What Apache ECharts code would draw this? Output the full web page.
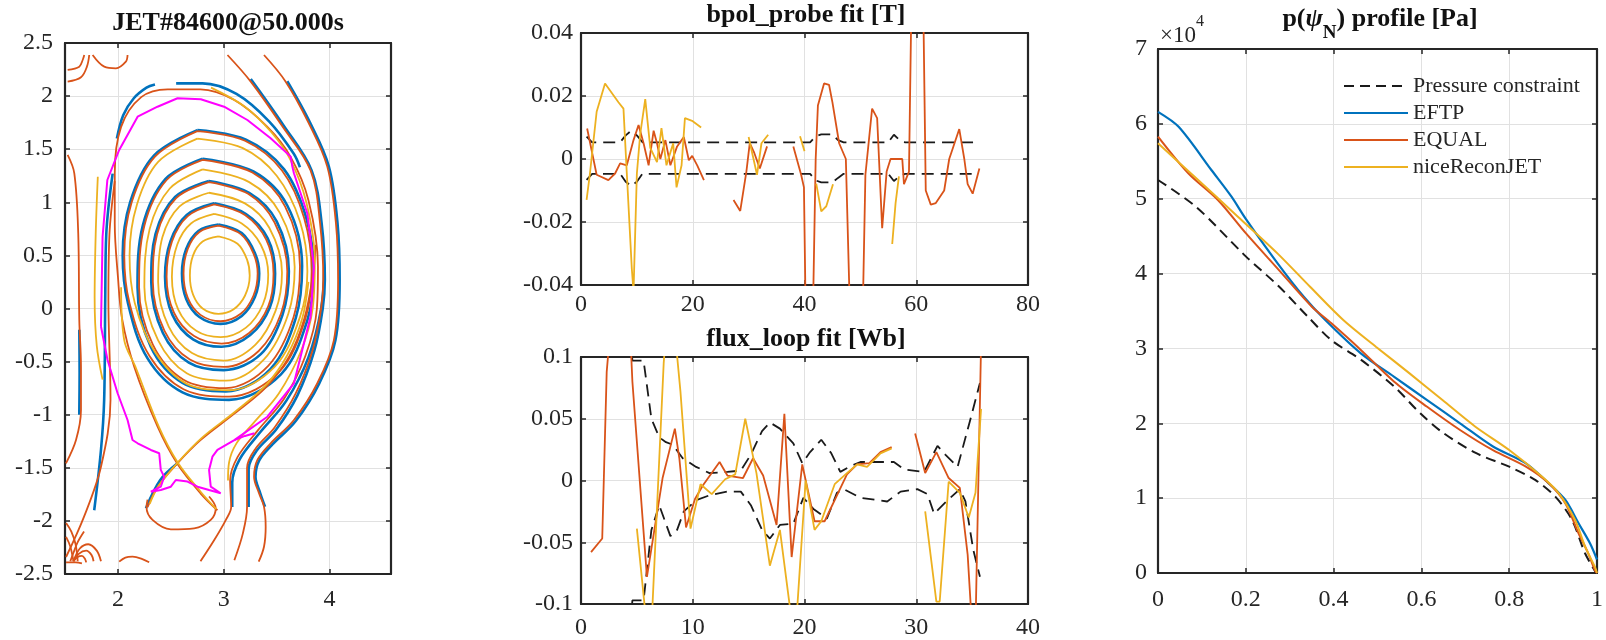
<!DOCTYPE html>
<html><head><meta charset="utf-8">
<script src="https://cdn.jsdelivr.net/npm/echarts@6/dist/echarts.min.js"></script>
<style>html,body{margin:0;padding:0;background:#fff;font-family:'Liberation Serif',serif}#c{width:1606px;height:640px}</style>
</head><body><div id="c"></div>
<script>
// ================= DATA =================
// ---- Panel 1: flux contours [R (m), Z (m)] ----
const ringEqual1 = [[2.95,0.78],[3.16,0.70],[3.28,0.52],[3.32,0.33],[3.28,0.12],[3.16,-0.05],[2.97,-0.12],[2.78,-0.06],[2.66,0.10],[2.62,0.33],[2.66,0.56],[2.77,0.72],[2.95,0.78]];
const ringEftp1  = [[2.95,0.79],[3.17,0.71],[3.295,0.52],[3.335,0.33],[3.295,0.11],[3.17,-0.07],[2.97,-0.145],[2.77,-0.08],[2.645,0.09],[2.605,0.33],[2.645,0.56],[2.76,0.73],[2.95,0.79]];
const ringNice1  = [[2.95,0.68],[3.13,0.61],[3.22,0.46],[3.245,0.31],[3.20,0.12],[3.09,-0.01],[2.95,-0.05],[2.80,0.00],[2.71,0.13],[2.68,0.31],[2.71,0.50],[2.80,0.63],[2.95,0.68]];
const ringEqual2 = [[2.91,0.98],[3.20,0.88],[3.40,0.65],[3.47,0.33],[3.42,0.02],[3.24,-0.23],[2.98,-0.33],[2.72,-0.26],[2.53,-0.04],[2.46,0.30],[2.51,0.63],[2.66,0.87],[2.91,0.98]];
const ringEftp2  = [[2.91,0.99],[3.21,0.89],[3.415,0.66],[3.485,0.33],[3.435,0.01],[3.25,-0.25],[2.98,-0.36],[2.71,-0.29],[2.515,-0.06],[2.445,0.30],[2.495,0.63],[2.65,0.88],[2.91,0.99]];
const ringNice2  = [[2.91,0.89],[3.17,0.80],[3.35,0.60],[3.42,0.32],[3.37,0.04],[3.21,-0.18],[2.97,-0.27],[2.74,-0.21],[2.57,-0.01],[2.51,0.30],[2.56,0.60],[2.69,0.80],[2.91,0.89]];
const ringEqual3 = [[2.86,1.19],[3.23,1.08],[3.48,0.81],[3.60,0.35],[3.54,-0.05],[3.33,-0.40],[3.00,-0.55],[2.68,-0.48],[2.44,-0.21],[2.33,0.25],[2.37,0.70],[2.55,1.04],[2.86,1.19]];
const ringEftp3  = [[2.86,1.20],[3.24,1.09],[3.50,0.82],[3.615,0.35],[3.555,-0.06],[3.35,-0.43],[3.00,-0.58],[2.67,-0.51],[2.425,-0.23],[2.315,0.25],[2.355,0.70],[2.54,1.05],[2.86,1.20]];
const ringNice3  = [[2.86,1.09],[3.20,0.99],[3.43,0.76],[3.55,0.34],[3.49,-0.02],[3.30,-0.34],[3.00,-0.49],[2.70,-0.42],[2.48,-0.17],[2.38,0.25],[2.42,0.67],[2.58,0.96],[2.86,1.09]];
const ringEqual4 = [[2.80,1.40],[3.27,1.28],[3.58,0.96],[3.72,0.40],[3.66,-0.08],[3.42,-0.54],[3.02,-0.75],[2.62,-0.67],[2.33,-0.34],[2.20,0.20],[2.25,0.78],[2.46,1.21],[2.80,1.40]];
const ringEftp4  = [[2.80,1.41],[3.28,1.29],[3.60,0.97],[3.74,0.40],[3.68,-0.09],[3.44,-0.57],[3.02,-0.78],[2.61,-0.70],[2.31,-0.36],[2.185,0.20],[2.235,0.78],[2.45,1.22],[2.80,1.41]];
const ringNice4  = [[2.80,1.31],[3.24,1.19],[3.53,0.90],[3.67,0.39],[3.61,-0.05],[3.38,-0.48],[3.02,-0.68],[2.65,-0.61],[2.38,-0.30],[2.25,0.20],[2.30,0.75],[2.49,1.13],[2.80,1.31]];
const ringEqual5 = [[2.75,1.67],[3.20,1.58],[3.55,1.30],[3.76,0.85],[3.83,0.35],[3.77,-0.10],[3.52,-0.60],[3.05,-0.83],[2.62,-0.76],[2.30,-0.45],[2.11,0.05],[2.06,0.50],[2.13,1.00],[2.35,1.43],[2.75,1.67]];
const ringEftp5  = [[2.75,1.68],[3.21,1.59],[3.57,1.31],[3.78,0.85],[3.85,0.35],[3.79,-0.11],[3.54,-0.62],[3.05,-0.86],[2.61,-0.79],[2.28,-0.47],[2.095,0.05],[2.045,0.50],[2.115,1.00],[2.34,1.44],[2.75,1.68]];
const ringNice5  = [[2.75,1.60],[3.18,1.51],[3.50,1.25],[3.72,0.82],[3.79,0.35],[3.72,-0.08],[3.48,-0.55],[3.05,-0.77],[2.65,-0.71],[2.35,-0.41],[2.16,0.05],[2.11,0.50],[2.18,0.98],[2.38,1.38],[2.75,1.60]];
const sepEqualMain = [[2.94,-1.90],[2.78,-1.74],[2.56,-1.46],[2.375,-1.113],[2.154,-0.548],[2.04,-0.10],[2.00,0.30],[1.97,0.80],[1.97,1.27],[2.03,1.71],[2.22,1.99],[2.47,2.064],[2.78,2.064],[3.10,1.963],[3.41,1.712],[3.63,1.43],[3.80,1.02],[3.89,0.39],[3.88,0.00],[3.77,-0.45],[3.57,-0.85],[3.32,-1.15],[3.13,-1.40],[3.06,-1.62],[3.07,-1.87],[3.02,-1.99],[2.91,-2.18],[2.78,-2.38]];
const sepEqualLeg = [[2.28,-1.87],[2.375,-1.68],[2.56,-1.46],[2.78,-1.24],[3.10,-0.99],[3.40,-0.74],[3.62,-0.45],[3.76,-0.10],[3.84,0.30],[3.87,0.60]];
const sepNiceA = [[2.03,0.20],[2.06,-0.30],[2.17,-0.56],[2.385,-1.11],[2.565,-1.45],[2.785,-1.73],[2.93,-1.89]];
const sepNiceB = [[2.30,-1.84],[2.385,-1.67],[2.565,-1.45],[2.79,-1.22],[3.11,-0.97],[3.40,-0.72],[3.60,-0.44],[3.74,-0.10],[3.80,0.25]];
const sepEftpLeg = [[2.265,-1.88],[2.40,-1.615],[2.56,-1.46]];
const sepEftpTopA = [[1.99,1.60],[2.05,1.82],[2.15,1.98],[2.27,2.08],[2.35,2.11]];
const sepEftpTopB = [[2.55,2.12],[2.80,2.12],[3.12,2.02],[3.43,1.76],[3.66,1.46],[3.72,1.33]];
const sepEftpRight = [[3.95,0.39],[3.92,0.00],[3.80,-0.46],[3.59,-0.87],[3.34,-1.17],[3.15,-1.42],[3.08,-1.64],[3.08,-1.87]];
const outerLeftEqual = [[1.97,1.20],[1.92,0.70],[1.91,0.08],[1.93,-0.86],[1.84,-1.49],[1.68,-1.96],[1.51,-2.34]];
const outerLeftEftp = [[1.95,1.27],[1.89,0.70],[1.88,0.08],[1.87,-0.86],[1.84,-1.33],[1.776,-1.90]];
const openDEqual = [[3.035,2.387],[3.255,2.136],[3.55,1.72],[3.82,1.30],[3.91,0.80],[3.94,0.27],[3.92,0.00],[3.84,-0.39],[3.68,-0.80],[3.48,-1.12],[3.30,-1.32],[3.22,-1.50],[3.22,-1.87],[3.18,-2.12],[3.10,-2.37]];
const openDEftp = [[3.255,2.16],[3.56,1.73],[3.83,1.30],[3.925,0.80],[3.955,0.27],[3.935,0.00],[3.855,-0.40],[3.695,-0.82],[3.495,-1.14],[3.31,-1.34],[3.235,-1.51],[3.235,-1.87]];
const openEEqual = [[3.38,2.387],[3.585,2.136],[3.80,1.75],[3.978,1.336],[4.06,0.80],[4.08,0.27],[4.04,-0.30],[3.884,-0.704],[3.663,-1.05],[3.443,-1.269],[3.318,-1.426],[3.286,-1.584],[3.333,-1.74],[3.38,-1.866],[3.396,-2.054],[3.38,-2.243],[3.33,-2.384]];
const openEEftp = [[3.60,2.14],[3.815,1.75],[3.993,1.336],[4.075,0.80],[4.095,0.27],[4.055,-0.30],[3.90,-0.71],[3.68,-1.06],[3.46,-1.28],[3.335,-1.43],[3.30,-1.585],[3.345,-1.74],[3.39,-1.866]];
const openFEqual = [[1.525,1.446],[1.588,1.273],[1.625,0.708],[1.635,-0.108],[1.651,-0.548],[1.651,-0.956],[1.604,-1.238],[1.509,-1.458]];
const openFEftp = [[1.635,-0.20],[1.638,-0.60],[1.635,-1.00]];
const openLeftNice = [[1.81,1.24],[1.79,0.70],[1.78,0.10],[1.80,-0.35],[1.855,-0.67]];
const openRightNice = [[2.88,2.08],[3.20,1.90],[3.45,1.66],[3.63,1.40],[3.78,1.00],[3.86,0.45],[3.84,0.00],[3.73,-0.40],[3.52,-0.80],[3.28,-1.08],[3.12,-1.27],[3.05,-1.45],[3.04,-1.62]];
const privateLoop = [[2.28,-1.80],[2.27,-1.87],[2.327,-1.991],[2.50,-2.079],[2.72,-2.07],[2.877,-1.991],[2.924,-1.881],[2.861,-1.77]];
const bottomDome = [[2.012,-2.384],[2.07,-2.345],[2.138,-2.337],[2.22,-2.355],[2.295,-2.39]];
const topArcA = [[1.525,2.246],[1.635,2.277],[1.667,2.340],[1.682,2.387]];
const topArcB = [[1.525,2.136],[1.651,2.177],[1.707,2.277],[1.729,2.387]];
const topArcC = [[1.761,2.387],[1.871,2.277],[1.981,2.262],[2.075,2.324],[2.091,2.387]];
const cornerArc1 = [[1.51,-2.02],[1.56,-2.10],[1.60,-2.22],[1.62,-2.38]];
const cornerArc2 = [[1.51,-2.15],[1.55,-2.24],[1.58,-2.38]];
const cornerArc3 = [[1.58,-2.38],[1.64,-2.26],[1.72,-2.22],[1.80,-2.28],[1.84,-2.38]];
const cornerArc4 = [[1.58,-2.38],[1.63,-2.31],[1.70,-2.28],[1.75,-2.32],[1.77,-2.38]];
const cornerArc5 = [[1.58,-2.38],[1.62,-2.34],[1.66,-2.33],[1.69,-2.36],[1.70,-2.39]];
const cornerArc6 = [[1.51,-2.39],[1.60,-2.39],[1.66,-2.40]];
const cornerArc7 = [[1.55,-2.38],[1.58,-2.30],[1.62,-2.20],[1.68,-2.10]];
const boundaryMagenta = [[1.84,-0.17],[1.855,0.676],[1.90,1.21],[2.012,1.493],[2.186,1.806],[2.374,1.90],[2.563,1.98],[2.783,1.97],[3.003,1.90],[3.223,1.775],[3.443,1.603],[3.632,1.43],[3.648,1.336],[3.663,1.273],[3.789,0.897],[3.852,0.394],[3.82,-0.077],[3.663,-0.704],[3.412,-1.019],[3.10,-1.24],[2.94,-1.332],[2.893,-1.395],[2.861,-1.52],[2.877,-1.678],[2.971,-1.74],[2.861,-1.709],[2.752,-1.678],[2.657,-1.63],[2.547,-1.615],[2.50,-1.678],[2.405,-1.709],[2.311,-1.725],[2.405,-1.678],[2.437,-1.584],[2.405,-1.52],[2.39,-1.363],[2.311,-1.332],[2.186,-1.269],[2.138,-1.238],[2.091,-1.05],[1.997,-0.798],[1.902,-0.485],[1.84,-0.17]];
const magentaStub = [[3.10,-1.24],[3.20,-1.20],[3.29,-1.175]];

// ---- Panel 2: bpol_probe fit [T] vs probe index ----
const bpolEqualA = [[1.1,0.0097],[2.8,-0.005],[4.9,-0.0067],[6.1,-0.0046],[7.0,-0.0014],[8.2,-0.002],[9.4,0.006],[10.3,0.0108],[11.2,0.005],[12.1,-0.002],[13.0,0.009],[13.6,0.005],[14.2,0.0],[15.1,0.006],[16.0,-0.002],[17.2,0.004],[18.4,0.007],[19.3,-0.0004],[19.9,0.001],[20.8,-0.002],[22.0,-0.0067]];
const bpolEqualB = [[27.3,-0.013],[28.5,-0.0165],[29.6,-0.004],[30.2,0.005],[31.0,0.002],[32.0,-0.003],[33.3,0.004]];
const bpolEqualC = [[38.0,0.004],[39.4,-0.005],[39.9,-0.009],[40.3,-0.06],[41.4,-0.06],[42.0,0.0],[42.4,0.017],[43.5,0.024],[44.4,0.0235],[45.0,0.018],[46.2,0.005],[47.4,0.0],[48.3,-0.06],[50.3,-0.06],[50.9,-0.005],[52.1,0.016],[53.0,0.013],[53.9,-0.022],[54.7,-0.004],[55.4,0.0],[56.3,0.0],[57.5,0.0],[57.8,-0.008],[58.7,-0.004],[59.3,0.07],[61.1,0.07],[61.7,-0.010],[62.6,-0.0145],[63.5,-0.014],[65.0,-0.010],[65.9,0.0],[67.7,0.0095],[68.6,0.0],[69.2,-0.008],[70.1,-0.011],[71.3,-0.003]];
const bpolNiceA = [[1.0,-0.013],[1.6,-0.0046],[2.8,0.015],[4.3,0.024],[6.7,0.018],[7.6,0.016],[8.2,-0.0046],[9.1,-0.035],[9.4,-0.042],[10.0,-0.0046],[10.6,0.008],[11.5,0.019],[12.4,0.0035],[13.6,-0.001],[14.4,0.0098],[15.3,-0.002],[16.5,0.005],[17.1,-0.009],[18.0,-0.002],[18.6,0.013],[20.0,0.012],[21.5,0.010]];
const bpolNiceB = [[30.0,0.007],[31.5,-0.005],[32.3,0.005],[33.5,0.0077]];
const bpolNiceC = [[39.2,0.0072],[40.0,0.0025]];
const bpolNiceD = [[42.1,-0.0078],[43.0,-0.0166],[43.9,-0.015],[45.1,-0.008]];
const bpolNiceE = [[55.7,-0.027],[56.3,-0.014],[56.9,-0.0055]];
const bpolUpper = [[1,0.0071],[2,0.0053],[7,0.0053],[8,0.0075],[9,0.009],[10,0.0075],[11,0.0053],[41,0.0053],[42,0.0072],[43,0.0078],[45,0.0078],[46,0.006],[47,0.0053],[55,0.0053],[56,0.0077],[57,0.006],[58,0.0053],[71,0.0053]];
const bpolLower = [[1,-0.0066],[2,-0.0047],[7,-0.0047],[8,-0.0072],[9,-0.0086],[10,-0.0072],[11,-0.0047],[41,-0.0047],[42,-0.0068],[43,-0.0074],[45,-0.0074],[46,-0.006],[47,-0.0047],[55,-0.0047],[56,-0.0070],[57,-0.0055],[58,-0.0047],[71,-0.0047]];

// ---- Panel 3: flux_loop fit [Wb] vs loop index ----
const fluxEqualA = [[0.9,-0.058],[1.9,-0.047],[2.3,0.088],[2.6,0.12],[4.4,0.12],[4.6,0.08],[5.9,-0.078],[7.3,0.002],[8.4,0.042],[8.8,0.018],[9.4,-0.038],[10.2,-0.015],[10.9,-0.004],[12.4,0.015],[13.1,0.004],[14.5,0.002],[15.4,0.018],[16.3,0.004],[17.5,-0.036],[18.2,0.054],[18.85,-0.062],[19.8,0.013],[20.9,-0.033],[21.8,-0.033],[23.8,0.005],[24.7,0.013],[25.8,0.014],[26.8,0.023],[27.8,0.027]];
const fluxEqualB = [[29.9,0.038],[30.8,0.006],[31.8,0.023],[32.9,0.002],[33.9,-0.006],[34.6,-0.06],[35.0,-0.12],[35.3,-0.12],[35.8,0.11]];
const fluxNiceA = [[5.0,-0.039],[5.9,-0.12],[6.3,-0.12],[7.4,0.095],[7.6,0.12],[8.4,0.12],[8.9,0.072],[9.8,-0.039],[10.7,-0.003],[11.7,-0.011],[12.9,0.001],[13.8,0.005],[14.7,0.05],[15.7,0.006],[16.9,-0.069],[17.8,-0.04],[18.8,-0.11],[19.3,-0.11],[20.1,0.0],[20.9,-0.04],[21.5,-0.033],[22.7,-0.003],[23.8,0.006],[24.7,0.013],[25.6,0.011],[26.8,0.022],[27.8,0.026]];
const fluxNiceB = [[30.8,-0.025],[31.8,-0.098],[32.1,-0.098],[32.9,-0.001],[33.9,-0.01],[34.7,-0.03],[35.3,-0.01],[35.8,0.058]];
const fluxUpper = [[4.3,0.13],[4.6,0.097],[5.6,0.097],[6.3,0.05],[7.0,0.035],[7.6,0.031],[8.2,0.029],[9.1,0.018],[10.3,0.011],[11.5,0.006],[13.1,0.007],[14.3,0.008],[15.2,0.021],[16.2,0.040],[16.9,0.047],[17.8,0.042],[19.0,0.030],[19.8,0.014],[20.5,0.023],[21.5,0.033],[22.4,0.022],[23.2,0.007],[24.2,0.012],[25.0,0.015],[28.0,0.015],[28.9,0.009],[30.7,0.007],[31.9,0.028],[32.6,0.021],[33.7,0.011],[34.8,0.048],[35.7,0.079]];
const fluxLower = [[4.3,-0.13],[4.6,-0.097],[5.6,-0.097],[6.3,-0.04],[7.0,-0.02],[8.0,-0.045],[8.6,-0.04],[9.2,-0.025],[10.3,-0.016],[11.5,-0.012],[13.1,-0.009],[14.3,-0.009],[15.2,-0.02],[16.2,-0.04],[16.9,-0.047],[17.8,-0.036],[19.0,-0.035],[19.9,-0.014],[20.8,-0.023],[22.0,-0.031],[22.9,-0.010],[23.5,-0.007],[25.0,-0.014],[27.4,-0.017],[28.6,-0.009],[30.1,-0.007],[31.0,-0.011],[31.6,-0.027],[32.8,-0.016],[33.9,-0.007],[34.4,-0.017],[35.1,-0.056],[35.7,-0.078]];

// ---- Panel 4: pressure profile p(psiN), in units of 1e4 Pa ----
const pConstraint = [[0,5.25],[0.087,4.89],[0.2,4.23],[0.275,3.83],[0.342,3.42],[0.395,3.11],[0.462,2.85],[0.538,2.49],[0.598,2.13],[0.65,1.87],[0.725,1.60],[0.8,1.42],[0.86,1.24],[0.905,1.02],[0.943,0.71],[0.973,0.26],[0.998,0]];
const pEFTP = [[0,6.16],[0.047,5.96],[0.122,5.38],[0.167,5.03],[0.2,4.73],[0.272,4.14],[0.332,3.69],[0.381,3.38],[0.462,2.935],[0.538,2.62],[0.613,2.31],[0.688,2.00],[0.763,1.69],[0.838,1.465],[0.89,1.198],[0.928,0.975],[0.958,0.664],[0.984,0.397],[1.0,0.18]];
const pEQUAL = [[0,5.83],[0.069,5.34],[0.137,4.98],[0.2,4.54],[0.275,4.05],[0.35,3.56],[0.395,3.335],[0.462,2.98],[0.538,2.555],[0.613,2.22],[0.688,1.91],[0.763,1.64],[0.838,1.42],[0.89,1.198],[0.928,0.93],[0.958,0.53],[0.98,0.263],[0.995,0.04],[1.0,0]];
const pNice = [[0,5.74],[0.084,5.29],[0.182,4.76],[0.272,4.27],[0.347,3.82],[0.422,3.38],[0.497,3.02],[0.573,2.667],[0.648,2.31],[0.723,1.954],[0.8,1.643],[0.875,1.286],[0.913,1.065],[0.95,0.708],[0.973,0.351],[0.995,0.084],[1.0,0]];
const legendNames = ['Pressure constraint','EFTP','EQUAL','niceReconJET'];

const xTicksEq = [2, 3, 4];
const titles = ['JET#84600@50.000s', 'bpol_probe fit [T]', 'flux_loop fit [Wb]'];

// ================= STYLE / BUILD =================
const FONT = 'Liberation Serif';
const AXC = '#262626', GRIDC = '#e1e1e1';
const BLUE = '#0072BD', ORANGE = '#D95319', YELLOW = '#EDB120', MAG = '#FF00FF', BLACK = '#1a1a1a';

function mkX(gi, min, max, interval, margin, custom) {
  const tick = {show:true, inside:true, length:5, lineStyle:{color:AXC, width:1.5}};
  const base = {type:'value', gridIndex:gi, min:min, max:max,
    axisLine:{show:true, onZero:false, lineStyle:{color:AXC, width:2.2}}};
  if (interval != null) base.interval = interval;
  const lbl = {fontSize:24, color:AXC, margin:margin};
  if (custom) lbl.customValues = custom;
  const bottom = Object.assign({}, base, {position:'bottom',
    axisTick: Object.assign({}, tick, custom ? {customValues: custom} : {}),
    axisLabel: lbl,
    splitLine:{show:true, lineStyle:{color:GRIDC, width:1}}});
  const top = Object.assign({}, base, {position:'top',
    axisTick: Object.assign({}, tick, custom ? {customValues: custom} : {}),
    axisLabel:{show:false}, splitLine:{show:false}});
  return [bottom, top];
}
function mkY(gi, min, max, interval, margin) {
  const tick = {show:true, inside:true, length:5, lineStyle:{color:AXC, width:1.5}};
  const base = {type:'value', gridIndex:gi, min:min, max:max, interval:interval,
    axisLine:{show:true, onZero:false, lineStyle:{color:AXC, width:2.2}}, axisTick:tick};
  const left = Object.assign({}, base, {position:'left',
    axisLabel:{fontSize:24, color:AXC, margin:margin},
    splitLine:{show:true, lineStyle:{color:GRIDC, width:1}}});
  const right = Object.assign({}, base, {position:'right', axisLabel:{show:false}, splitLine:{show:false}});
  return [left, right];
}

function L(g, data, color, width, o) {
  o = o || {};
  const s = {type:'line', data:data, xAxisIndex:g*2, yAxisIndex:g*2, symbol:'none', showSymbol:false,
    silent:true, animation:false, clip:true, smooth:o.smooth || false, z:o.z || 3,
    lineStyle:{color:color, width:width, type:o.dash ? (o.dashArr || [11,7]) : 'solid'}, itemStyle:{color:color}};
  if (o.name) s.name = o.name;
  return s;
}

const series = [];
const SM = 0.35;
// panel 1
[ringEftp1, ringEftp2, ringEftp3, ringEftp4, ringEftp5].forEach(d => series.push(L(0, d, BLUE, 2.6, {smooth:SM, z:2})));
[ringEqual1, ringEqual2, ringEqual3, ringEqual4, ringEqual5].forEach(d => series.push(L(0, d, ORANGE, 1.8, {smooth:SM, z:3})));
[ringNice1, ringNice2, ringNice3, ringNice4, ringNice5].forEach(d => series.push(L(0, d, YELLOW, 1.8, {smooth:SM, z:4})));
[sepEftpLeg, sepEftpTopA, sepEftpTopB, sepEftpRight, outerLeftEftp, openDEftp, openEEftp, openFEftp].forEach(d => series.push(L(0, d, BLUE, 2.6, {smooth:SM, z:2})));
[sepEqualMain, sepEqualLeg, outerLeftEqual, openDEqual, openEEqual, openFEqual, privateLoop, bottomDome, topArcA, topArcB, topArcC,
 cornerArc1, cornerArc2, cornerArc3, cornerArc4, cornerArc5, cornerArc6, cornerArc7].forEach(d => series.push(L(0, d, ORANGE, 1.8, {smooth:SM, z:3})));
[sepNiceA, sepNiceB, openLeftNice, openRightNice].forEach(d => series.push(L(0, d, YELLOW, 1.8, {smooth:SM, z:4})));
series.push(L(0, boundaryMagenta, MAG, 2, {z:5}));
series.push(L(0, magentaStub, MAG, 2, {z:5}));
// panel 2
series.push(L(1, bpolUpper, BLACK, 1.8, {dash:true, z:2, dashArr:[12,7]}));
series.push(L(1, bpolLower, BLACK, 1.8, {dash:true, z:2, dashArr:[12,7]}));
[bpolEqualA, bpolEqualB, bpolEqualC].forEach(d => series.push(L(1, d, ORANGE, 1.8, {z:3})));
[bpolNiceA, bpolNiceB, bpolNiceC, bpolNiceD, bpolNiceE].forEach(d => series.push(L(1, d, YELLOW, 1.8, {z:4})));
// panel 3
series.push(L(2, fluxUpper, BLACK, 1.8, {dash:true, z:2, dashArr:[12,7]}));
series.push(L(2, fluxLower, BLACK, 1.8, {dash:true, z:2, dashArr:[12,7]}));
[fluxEqualA, fluxEqualB].forEach(d => series.push(L(2, d, ORANGE, 1.8, {z:3})));
[fluxNiceA, fluxNiceB].forEach(d => series.push(L(2, d, YELLOW, 1.8, {z:4})));
// panel 4
series.push(L(3, pConstraint, BLACK, 2, {dash:true, z:2, smooth:0.3, dashArr:[10,6], name:legendNames[0]}));
series.push(L(3, pEFTP, BLUE, 2.2, {z:3, smooth:0.3, name:legendNames[1]}));
series.push(L(3, pEQUAL, ORANGE, 2, {z:4, smooth:0.3, name:legendNames[2]}));
series.push(L(3, pNice, YELLOW, 2, {z:5, smooth:0.3, name:legendNames[3]}));

const xAxis = [].concat(
  mkX(0, 1.5, 4.58, null, 14, xTicksEq),
  mkX(1, 0, 80, 20, 8),
  mkX(2, 0, 40, 10, 12),
  mkX(3, 0, 1, 0.2, 15));
const yAxis = [].concat(
  mkY(0, -2.5, 2.5, 0.5, 12),
  mkY(1, -0.04, 0.04, 0.02, 8),
  mkY(2, -0.1, 0.1, 0.05, 8),
  mkY(3, 0, 7, 1, 11));

const option = {
  animation:false,
  backgroundColor:'#ffffff',
  textStyle:{fontFamily:FONT},
  grid:[
    {left:65, top:43, width:326, height:531},
    {left:581, top:33, width:447, height:252},
    {left:581, top:357, width:447, height:251},
    {left:1158, top:49, width:444, height:524}
  ],
  xAxis:xAxis, yAxis:yAxis, series:series,
  legend:{data:legendNames, orient:'vertical', left:1338, top:70, itemWidth:64, itemHeight:14, itemGap:5,
    itemStyle:{color:'rgba(0,0,0,0)', borderColor:'rgba(0,0,0,0)', borderWidth:0, opacity:0},
    textStyle:{fontSize:22, color:AXC}, selectedMode:false},
  graphic:[
    {type:'text', x:228, y:23, style:{text:titles[0], font:'bold 26px "Liberation Serif"', fill:'#111', align:'center', verticalAlign:'middle'}},
    {type:'text', x:806, y:15, style:{text:titles[1], font:'bold 26px "Liberation Serif"', fill:'#111', align:'center', verticalAlign:'middle'}},
    {type:'text', x:806, y:339, style:{text:titles[2], font:'bold 26px "Liberation Serif"', fill:'#111', align:'center', verticalAlign:'middle'}},
    {type:'text', x:1380, y:19, style:{text:'{a|p(}{g|ψ}{s|N}{a|) profile [Pa]}', align:'center', verticalAlign:'middle',
      rich:{a:{fontFamily:FONT, fontWeight:'bold', fontSize:26, lineHeight:48, fill:'#111'},
            g:{fontFamily:FONT, fontWeight:'bold', fontStyle:'italic', fontSize:26, lineHeight:48, fill:'#111'},
            s:{fontFamily:FONT, fontWeight:'bold', fontSize:19, verticalAlign:'bottom', fill:'#111'}}}},
    {type:'text', x:1160, y:36, style:{text:'{a|×10}{b|4}', align:'left', verticalAlign:'middle',
      rich:{a:{fontFamily:FONT, fontSize:23, lineHeight:44, fill:AXC}, b:{fontFamily:FONT, fontSize:16, verticalAlign:'top', fill:AXC}}}}
  ]
};
const chart = echarts.init(document.getElementById('c'), null, {renderer:'canvas'});
chart.setOption(option);
</script></body></html>
